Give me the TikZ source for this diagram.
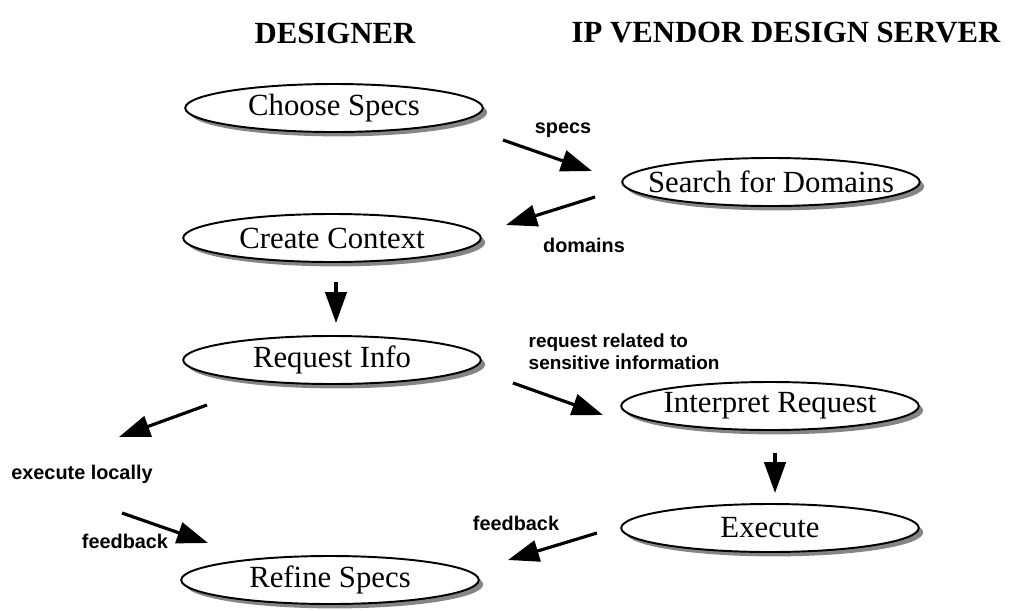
\documentclass[tikz,border=0pt]{standalone}
\usepackage{fontspec}
\setmainfont{Liberation Serif}
\setsansfont{Liberation Sans}
\usepackage{tikz}
\usetikzlibrary{shapes.geometric, arrows.meta, positioning, shadows}
\tikzset{
  task/.style={ellipse, draw, line width=1.1pt, fill=white, minimum width=5.95cm, minimum height=0.96cm, inner xsep=-1.2cm, inner ysep=0pt, font=\fontsize{17.5}{20}\selectfont,
    drop shadow={shadow xshift=2.5pt, shadow yshift=-2.5pt, fill=black!60, opacity=0.8}},
  lane/.style={font=\fontsize{17.5}{20}\selectfont\bfseries},
  msg/.style={font=\sffamily\bfseries\fontsize{11.3}{13}\selectfont, align=left},
  flow/.style={-{Triangle[length=6.2mm, width=4.3mm]}, line width=1.8pt},
}

\begin{document}
\begin{tikzpicture}
  \useasboundingbox (0,0) rectangle (20.46,-12.2);
  \node[lane] (designer) at (6.7, -0.66) {DESIGNER};
  \node[lane] (vendor) at (15.72, -0.66) {IP VENDOR DESIGN SERVER};
  \node[task] (choose) at (6.68, -2.16) {Choose Specs};
  \node[task] (search) at (15.42, -3.64) {Search for Domains};
  \node[task] (context) at (6.64, -4.76) {Create Context};
  \node[task] (request) at (6.64, -7.2) {Request Info};
  \node[task] (interpret) at (15.4, -8.12) {Interpret Request};
  \node[task] (execute) at (15.4, -10.56) {Execute};
  \node[task] (refine) at (6.6, -11.6) {Refine Specs};
  \node[msg] (specs) at (11.26, -2.6) {specs};
  \node[msg] (domains) at (11.68, -4.9) {domains};
  \node[msg, anchor=west, font=\sffamily\bfseries\fontsize{10.8}{12.5}\selectfont] (related) at (10.45, -7.04) {request related to\\sensitive information};
  \node[msg] (locally) at (1.64, -9.48) {execute locally};
  \node[msg] (fbleft) at (2.5, -10.82) {feedback};
  \node[msg] (fbright) at (10.32, -10.46) {feedback};
  \coordinate (specsA) at (10.06, -2.8);
  \coordinate (specsB) at (11.84, -3.42);
  \coordinate (domA) at (11.9, -3.94);
  \coordinate (domB) at (10.12, -4.5);
  \coordinate (ctxA) at (6.72, -5.64);
  \coordinate (ctxB) at (6.72, -6.46);
  \coordinate (locA) at (4.14, -8.1);
  \coordinate (locB) at (2.38, -8.74);
  \coordinate (fbA) at (2.44, -10.26);
  \coordinate (fbB) at (4.16, -10.86);
  \coordinate (relA) at (10.26, -7.66);
  \coordinate (relB) at (12.06, -8.3);
  \coordinate (intA) at (15.5, -9.06);
  \coordinate (intB) at (15.5, -9.86);
  \coordinate (exA) at (11.94, -10.66);
  \coordinate (exB) at (10.16, -11.2);
  \draw[flow] (specsA) -- (specsB);
  \draw[flow] (domA) -- (domB);
  \draw[flow] (ctxA) -- (ctxB);
  \draw[flow] (locA) -- (locB);
  \draw[flow] (fbA) -- (fbB);
  \draw[flow] (relA) -- (relB);
  \draw[flow] (intA) -- (intB);
  \draw[flow] (exA) -- (exB);
\end{tikzpicture}
\end{document}
